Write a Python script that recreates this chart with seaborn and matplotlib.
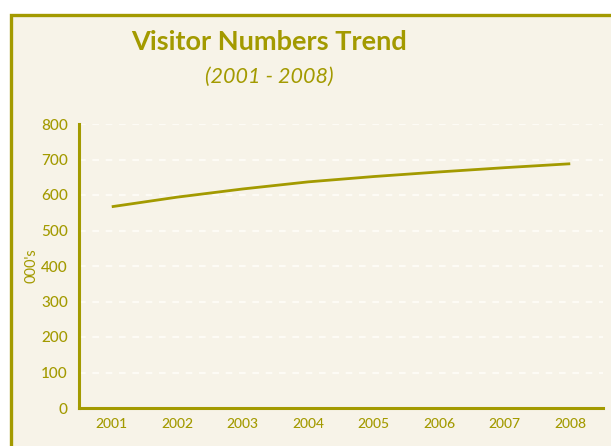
import matplotlib
matplotlib.use("Agg")
import matplotlib.pyplot as plt
import seaborn as sns
import pandas as pd
from matplotlib.patches import Rectangle

years = ["2001", "2002", "2003", "2004", "2005", "2006", "2007", "2008"]
visitors = [567, 594, 617, 637, 652, 665, 677, 688]
y_ticks = [0, 100, 200, 300, 400, 500, 600, 700, 800]

OLIVE = "#a39a00"
PANEL = "#f7f3e8"
GRID = "#fdfbf5"

sns.set_theme(style="white")
plt.rcParams["font.family"] = ["Lato", "DejaVu Sans"]

df = pd.DataFrame({"year": years, "visitors": visitors})
df["pos"] = range(len(years))

fig = plt.figure(figsize=(6.11, 4.46), dpi=100, facecolor="white")

# framed panel behind the chart
panel = Rectangle((10.5 / 611, -0.05), 1.2, 1 - 14.5 / 446 + 0.05,
                  transform=fig.transFigure, facecolor=PANEL,
                  edgecolor=OLIVE, linewidth=2.4, zorder=-1)
fig.patches.append(panel)

ax = fig.add_axes([79 / 611, 1 - 408 / 446, (603 - 79) / 611, (408 - 124) / 446])
ax.set_facecolor("none")

sns.lineplot(data=df, x="pos", y="visitors", ax=ax, color=OLIVE,
             linewidth=2.0, solid_capstyle="butt")

ax.set_xlim(-0.5, len(years) - 0.5)
ax.set_ylim(0, 800)
ax.set_xticks(df["pos"])
ax.set_xticklabels(years)
ax.set_yticks(y_ticks)
ax.set_yticklabels([str(t) for t in y_ticks])
ax.tick_params(axis="both", colors=OLIVE, length=0)
ax.tick_params(axis="x", pad=7, labelsize=10)
ax.tick_params(axis="y", pad=8, labelsize=11)
for lbl in ax.get_xticklabels() + ax.get_yticklabels():
    lbl.set_color(OLIVE)
    lbl.set_fontweight("medium")

ax.yaxis.grid(True, color=GRID, linestyle=(0, (3, 3)), linewidth=1.6)
ax.set_axisbelow(True)

for side in ("top", "right"):
    ax.spines[side].set_visible(False)
for side in ("left", "bottom"):
    ax.spines[side].set_color(OLIVE)
    ax.spines[side].set_linewidth(2.2)

ax.set_xlabel("")
ax.set_ylabel("000's", color=OLIVE, fontsize=10.5)
ax.yaxis.set_label_coords(-0.078, 0.5)

fig.text(0.44, 1 - 42 / 446, "Visitor Numbers Trend", ha="center", va="center",
         fontsize=19.5, fontweight="bold", color=OLIVE)
fig.text(0.44, 1 - 77 / 446, "(2001 - 2008)", ha="center", va="center",
         fontsize=15.5, fontstyle="italic", color=OLIVE)

fig.savefig("out.png", dpi=100, facecolor="white")
